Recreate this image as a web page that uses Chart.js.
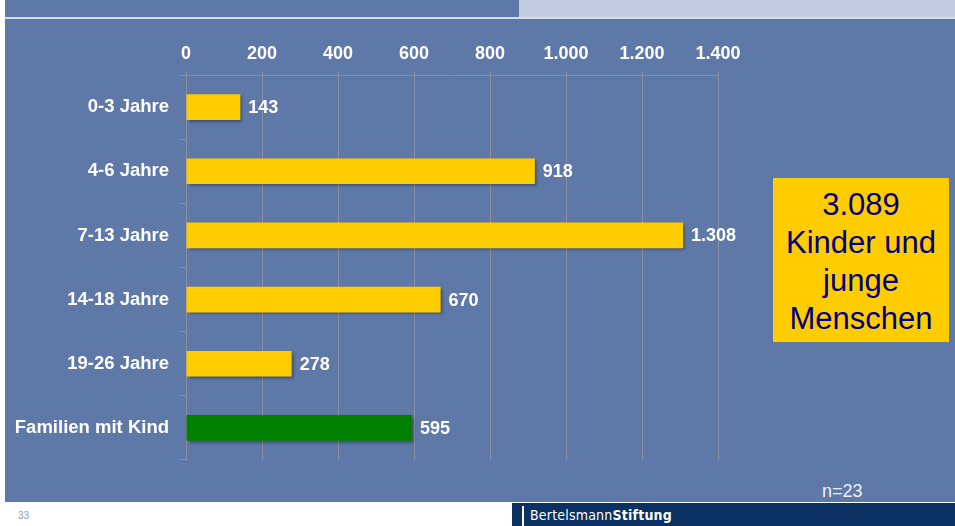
<!DOCTYPE html>
<html>
<head>
<meta charset="utf-8">
<script src="https://cdn.jsdelivr.net/npm/chart.js@4"></script>
<style>
  html, body { margin: 0; padding: 0; background: #fff; }
  body { width: 955px; height: 526px; position: relative; overflow: hidden; font-family: "Liberation Sans", Arial, sans-serif; }
  .slide { position: absolute; left: 5px; top: 0; width: 950px; height: 502px; background: #5e78a8; }
  .band { position: absolute; left: 519px; top: 0; width: 436px; height: 17px; background: #c3cbdf; }
  .sep { position: absolute; left: 5px; top: 17px; width: 950px; height: 2px; background: #d5dcea; }
  .box { position: absolute; left: 773px; top: 178px; width: 176px; height: 164px; background: #ffcc00;
         color: #000080; font-size: 31px; line-height: 38px; text-align: center; box-sizing: border-box; padding-top: 8px; }
  .n { position: absolute; left: 822px; top: 481px; color: #eef1f7; font-size: 18px; }
  .page { position: absolute; left: 18px; top: 510px; color: #8d9cc2; font-size: 10px; }
  .footer { position: absolute; left: 512px; top: 503px; width: 443px; height: 23px; background: #0a3161; }
  .footer .bar { position: absolute; left: 10px; top: 3px; width: 2px; height: 20px; background: #fff; }
  .footer .txt { position: absolute; left: 18px; top: 4px; color: #fff; font-size: 14px; font-family: "DejaVu Sans Condensed", "Liberation Sans Narrow", sans-serif; letter-spacing: 0.2px; }
  .footer .txt b { font-weight: bold; }
  canvas { position: absolute; left: 0; top: 0; }
</style>
</head>
<body>
<div class="slide"></div>
<div class="band"></div>
<div class="sep"></div>
<div class="box">3.089<br>Kinder und<br>junge<br>Menschen</div>
<div class="n">n=23</div>
<div class="page">33</div>
<div class="footer"><div class="bar"></div><div class="txt">Bertelsmann<b>Stiftung</b></div></div>
<canvas id="chart" width="955" height="526"></canvas>
<script>
// Daten
const categories = ["0-3 Jahre", "4-6 Jahre", "7-13 Jahre", "14-18 Jahre", "19-26 Jahre", "Familien mit Kind"];
const values = [143, 918, 1308, 670, 278, 595];
const axisMax = 1400;
const axisStep = 200;

const YELLOW = "#ffcc00";
const GREEN = "#008000";
const GRID = "#8a90a2";
const FONT = "Liberation Sans, Arial, sans-serif";

// Zahlen mit Tausenderpunkt
function fmt(v) {
  return String(v).replace(/\B(?=(\d{3})+(?!\d))/g, ".");
}

// Schatten unter den Balken
const shadowPlugin = {
  id: "barShadow",
  beforeDatasetsDraw(chart) {
    const ctx = chart.ctx;
    ctx.save();
    ctx.shadowColor = "rgba(0, 0, 0, 0.35)";
    ctx.shadowOffsetX = 2;
    ctx.shadowOffsetY = 2;
    ctx.shadowBlur = 3;
  },
  afterDatasetsDraw(chart) {
    chart.ctx.restore();
  }
};

// Werte rechts neben den Balken
const valueLabels = {
  id: "valueLabels",
  afterDraw(chart) {
    const ctx = chart.ctx;
    const meta = chart.getDatasetMeta(0);
    ctx.save();
    ctx.font = "bold 18px " + FONT;
    ctx.fillStyle = "#ffffff";
    ctx.textAlign = "left";
    ctx.textBaseline = "middle";
    meta.data.forEach((bar, i) => {
      ctx.fillText(fmt(values[i]), bar.x + 8, bar.y + 1);
    });
    ctx.restore();
  }
};

new Chart(document.getElementById("chart"), {
  type: "bar",
  data: {
    labels: categories,
    datasets: [{
      data: values,
      backgroundColor: values.map((_, i) => i === values.length - 1 ? GREEN : YELLOW),
      borderWidth: 0,
      categoryPercentage: 0.4,
      barPercentage: 1.0
    }]
  },
  options: {
    indexAxis: "y",
    responsive: false,
    animation: false,
    events: [],
    layout: { padding: { left: 0, top: 0, right: 237, bottom: 66 } },
    plugins: {
      legend: { display: false },
      tooltip: { enabled: false }
    },
    scales: {
      x: {
        position: "top",
        min: 0,
        max: axisMax,
        afterFit(scale) { scale.height = 75; },
        ticks: {
          stepSize: axisStep,
          color: "#ffffff",
          font: { family: FONT, size: 18, weight: "bold" },
          padding: 6,
          callback: v => fmt(v)
        },
        grid: { color: GRID, lineWidth: 1, tickLength: 4 },
        border: { color: GRID, width: 1 }
      },
      y: {
        afterFit(scale) { scale.width = 186; },
        ticks: {
          color: "#ffffff",
          font: { family: FONT, size: 18.5, weight: "bold" },
          padding: 11
        },
        grid: { offset: true, drawOnChartArea: false, color: GRID, tickLength: 6 },
        border: { color: GRID, width: 1 }
      }
    }
  },
  plugins: [shadowPlugin, valueLabels]
});
</script>
</body>
</html>
